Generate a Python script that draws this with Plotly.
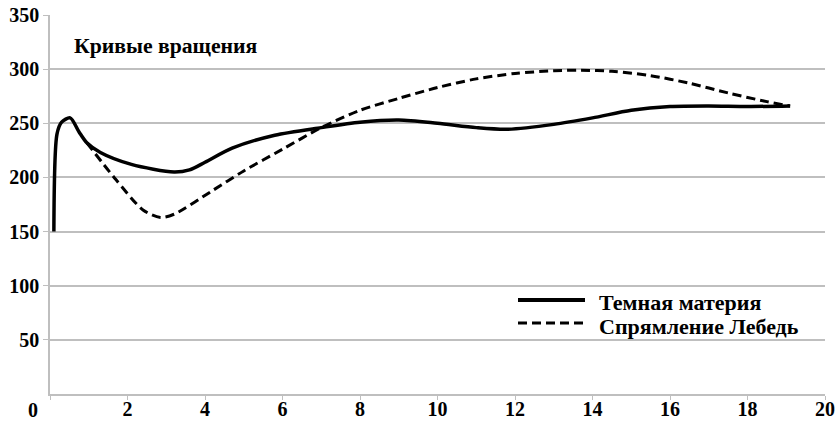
import plotly.graph_objects as go

# Solid curve: "Темная материя"
dm_x = [0.1, 0.18, 0.3, 0.52, 0.75, 0.95, 1.3, 2.1, 3.2, 3.6, 4.0, 4.7, 5.8,
        7, 8, 9, 10, 11, 11.8, 13, 14, 15, 16, 17, 18, 19.1]
dm_y = [150, 240, 251, 255, 242, 232, 223, 212, 205, 207, 214, 227, 239,
        246, 251, 253, 250, 246, 244.5, 249, 255, 262, 265.5, 266, 265.5, 266]

# Dashed curve: "Спрямление Лебедь"
sl_x = [0.95, 1.7, 2.4, 2.85, 3.2, 4.2, 5.0, 6.0, 7.0, 8, 9, 10, 11, 12, 13,
        13.7, 14.5, 15.5, 16.5, 17.5, 18.5, 19.1]
sl_y = [232, 198, 170, 163, 166, 188, 206, 226, 246, 262, 273, 283, 291, 296,
        298.5, 299, 298, 294, 287, 278, 270, 266]

x_ticks = list(range(0, 21, 2))
y_ticks = [50, 100, 150, 200, 250, 300, 350]
names = ["Темная материя", "Спрямление Лебедь"]
title_text = "Кривые вращения"

FONT = "Liberation Serif, DejaVu Serif, serif"
GRID = "#bfbfbf"
L, R, T, B = 50, 15, 15, 28
PW, PH = 840 - L - R, 422 - T - B

def px_x(p):
    return (p - L) / PW

def px_y(p):
    return (422 - B - p) / PH

fig = go.Figure()
fig.add_trace(go.Scatter(x=dm_x, y=dm_y, mode="lines", name=names[0],
                         line=dict(color="black", width=3.5, shape="spline", smoothing=0.8),
                         showlegend=False))
fig.add_trace(go.Scatter(x=sl_x, y=sl_y, mode="lines", name=names[1],
                         line=dict(color="black", width=3, dash="9px,5px", shape="spline", smoothing=0.8),
                         showlegend=False))

# custom legend keys
leg_rows = [(300, 302, "solid", 4), (323, 326, "9px,5px", 3)]
for (yl, yt, dash, w), nm in zip(leg_rows, names):
    fig.add_shape(type="line", xref="paper", yref="paper",
                  x0=px_x(518), x1=px_x(585), y0=px_y(yl), y1=px_y(yl),
                  line=dict(color="black", width=w, dash=dash))
    fig.add_annotation(xref="paper", yref="paper", x=px_x(597), y=px_y(yt),
                       xanchor="left", yanchor="middle", showarrow=False,
                       text="<b>" + nm + "</b>",
                       font=dict(family=FONT, size=22, color="black"))

fig.add_annotation(xref="paper", yref="paper", x=px_x(72), y=px_y(46),
                   xanchor="left", yanchor="middle", showarrow=False,
                   text="<b>" + title_text + "</b>",
                   font=dict(family=FONT, size=21.7, color="black"))

# x label "0" sits left of the origin in the reference
fig.add_annotation(xref="paper", yref="paper", x=px_x(33), y=px_y(410),
                   xanchor="center", yanchor="middle", showarrow=False,
                   text="<b>0</b>", font=dict(family=FONT, size=20, color="black"))

fig.update_layout(
    width=840, height=422,
    margin=dict(l=L, r=R, t=T, b=B),
    plot_bgcolor="white", paper_bgcolor="white",
    font=dict(family=FONT, size=20, color="black"),
)
fig.update_xaxes(range=[0, 20], tickvals=x_ticks,
                 ticktext=[("<b>%d</b>" % v) if v else "" for v in x_ticks],
                 tickfont=dict(family=FONT, size=20, color="black"),
                 automargin=False, ticklabelstandoff=-8,
                 showgrid=False, zeroline=False, showline=True, linecolor=GRID,
                 linewidth=1.5, ticks="outside", ticklen=4, tickcolor=GRID)
fig.update_yaxes(range=[0, 350], tickvals=y_ticks,
                 ticktext=["<b>%d</b>" % v for v in y_ticks],
                 tickfont=dict(family=FONT, size=20, color="black"),
                 automargin=False,
                 showgrid=True, gridcolor=GRID, gridwidth=1.5, zeroline=False,
                 showline=True, linecolor=GRID, linewidth=1.5,
                 ticks="outside", ticklen=5, tickcolor=GRID)

fig.write_html("out.html", config={"displayModeBar": False},
               post_script="document.body.style.margin='0';document.body.style.padding='0';")
